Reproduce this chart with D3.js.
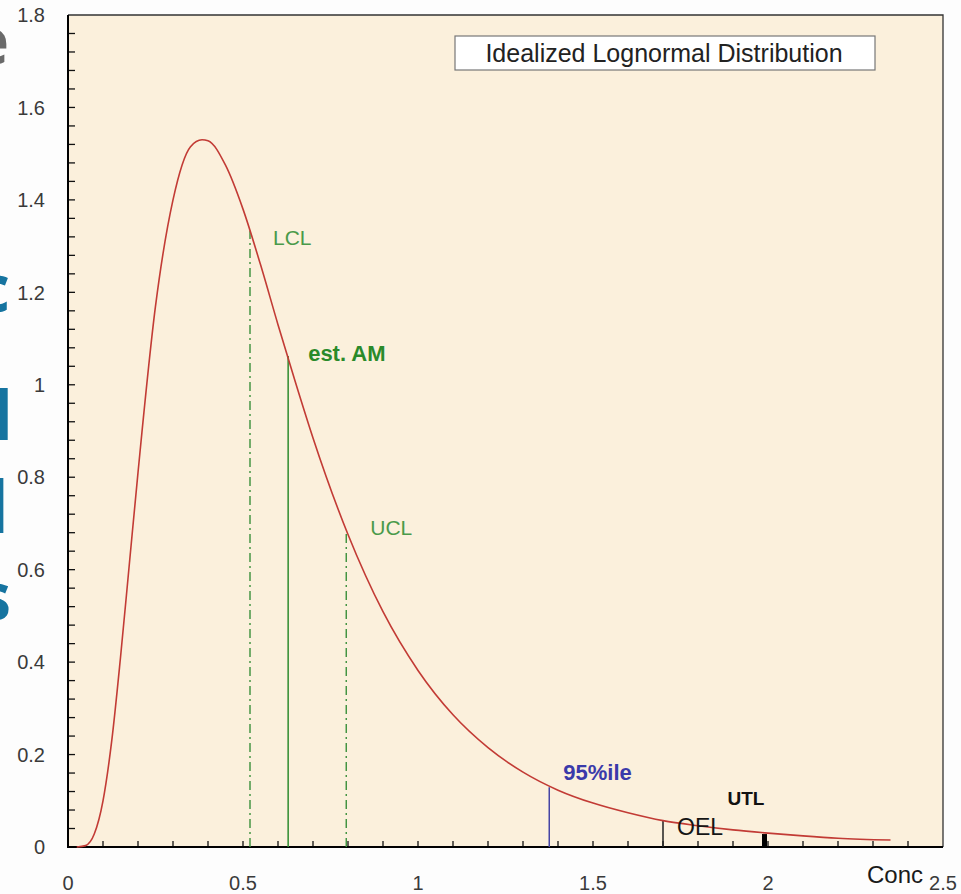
<!DOCTYPE html>
<html>
<head>
<meta charset="utf-8">
<script src="https://cdn.jsdelivr.net/npm/d3@7/dist/d3.min.js"></script>
<style>
  html, body { margin: 0; padding: 0; background: #fdfdfd; }
  svg { display: block; font-family: "Liberation Sans", Arial, sans-serif; }
</style>
</head>
<body>
<svg id="chart" width="961" height="894"></svg>
<script>
// ---- data ----
const curveX = [0.025,0.05,0.075,0.1,0.125,0.15,0.175,0.2,0.25,0.3,0.35,0.383,0.4,0.45,0.5,0.55,0.6,0.65,0.7,0.8,0.9,1.0,1.1,1.2,1.3,1.4,1.5,1.6,1.7,1.8,1.9,2.0,2.1,2.2,2.35];
const curveY = [0,0.003,0.028,0.10,0.23,0.41,0.61,0.81,1.17,1.40,1.515,1.53,1.528,1.475,1.38,1.26,1.13,1.005,0.885,0.676,0.509,0.382,0.286,0.215,0.162,0.123,0.095,0.074,0.057,0.046,0.037,0.030,0.024,0.019,0.015];

const markerNames = ["LCL", "est. AM", "UCL", "95%ile", "OEL", "UTL"];
const markerX     = [0.52, 0.629, 0.795, 1.375, 1.70, 1.99];
const markerTop   = [1.333, 1.062, 0.686, 0.129, 0.056, 0.028];

const xTickLabels = [0, 0.5, 1, 1.5, 2, 2.5];
const yTickLabels = [0, 0.2, 0.4, 0.6, 0.8, 1, 1.2, 1.4, 1.6, 1.8];
const legendTitle = "Idealized Lognormal Distribution";
const xAxisTitle = "Conc";
const sideFragments = ["e", "c", "l", "l", "s"];

// ---- styles (layout only) ----
const markerStyle = [
  {stroke: "#3a8f3a", width: 1.4, dash: "9,4,2,4", color: "#4a9a4a", weight: "normal", size: 21, dx: 23, dy: 14},
  {stroke: "#2e8b2e", width: 1.5, dash: null,      color: "#2a8a2a", weight: "bold",   size: 22, dx: 20, dy: 5},
  {stroke: "#3a8f3a", width: 1.4, dash: "9,4,2,4", color: "#4a9a4a", weight: "normal", size: 21, dx: 24, dy: 5},
  {stroke: "#4545a5", width: 1.5, dash: null,      color: "#3a3aaa", weight: "bold",   size: 22, dx: 14, dy: -7},
  {stroke: "#222",    width: 1.5, dash: null,      color: "#151515", weight: "normal", size: 23, dx: 14, dy: 14},
  {stroke: "#000",    width: 5,   dash: null,      color: "#111",    weight: "bold",   size: 19, dx: -37, dy: -29}
];

const svg = d3.select("#chart");
const L = 68, T = 15, R = 943, B = 847;

const x = d3.scaleLinear().domain([0, 2.5]).range([L, R]);
const y = d3.scaleLinear().domain([0, 1.8]).range([B, T]);

// side fragments of background slide text
const fragG = svg.append("g");
const fragPos = [
  {y: 64,  size: 64, fill: "#6a6a6a", x: 9},
  {y: 312, size: 66, fill: "#1674a0", x: 10},
  {y: 440, size: 68, fill: "#1674a0", x: 13},
  {y: 533, size: 72, fill: "#1674a0", x: 9},
  {y: 620, size: 66, fill: "#1674a0", x: 11}
];
fragG.selectAll("text").data(sideFragments).join("text")
  .attr("x", (d, i) => fragPos[i].x)
  .attr("y", (d, i) => fragPos[i].y)
  .attr("text-anchor", "end")
  .attr("font-family", "'Open Sans', sans-serif")
  .attr("font-weight", "bold")
  .attr("font-size", (d, i) => fragPos[i].size)
  .attr("fill", (d, i) => fragPos[i].fill)
  .text(d => d);

// plot background
svg.append("rect").attr("x", L).attr("y", T).attr("width", R - L).attr("height", B - T)
  .attr("fill", "#fbf0dc");

// border top/right
svg.append("path").attr("d", `M${L},${T}H${R}V${B}`).attr("fill", "none")
  .attr("stroke", "#333").attr("stroke-width", 1.3);

// legend box
const lg = svg.append("g");
lg.append("rect").attr("x", 455).attr("y", 36).attr("width", 420).attr("height", 34)
  .attr("fill", "#fff").attr("stroke", "#777").attr("stroke-width", 1.2);
lg.append("text").attr("x", 664).attr("y", 62).attr("text-anchor", "middle")
  .attr("font-size", 25).attr("fill", "#222").text(legendTitle);

// ticks
const xMinor = d3.range(0, 25).map(i => i / 10).filter(v => v > 0);
svg.append("g").selectAll("line").data(xMinor).join("line")
  .attr("x1", d => x(d)).attr("x2", d => x(d))
  .attr("y1", B).attr("y2", B - 6)
  .attr("stroke", "#111").attr("stroke-width", 1.3);

const yMinor = d3.range(1, 45).map(i => i * 0.04);
svg.append("g").selectAll("line").data(yMinor).join("line")
  .attr("x1", L).attr("x2", L + 7)
  .attr("y1", d => y(d)).attr("y2", d => y(d))
  .attr("stroke", "#111").attr("stroke-width", 1.3);

// axes lines
svg.append("line").attr("x1", L).attr("x2", L).attr("y1", T).attr("y2", B + 1)
  .attr("stroke", "#000").attr("stroke-width", 2);
svg.append("line").attr("x1", L - 1).attr("x2", R).attr("y1", B).attr("y2", B)
  .attr("stroke", "#000").attr("stroke-width", 2);

// tick labels
svg.append("g").selectAll("text").data(yTickLabels).join("text")
  .attr("x", 45).attr("y", d => y(d)).attr("dy", "0.36em")
  .attr("text-anchor", "end").attr("font-size", 20).attr("fill", "#3a3a3a")
  .text(d => d3.format("~g")(d));

svg.append("g").selectAll("text").data(xTickLabels).join("text")
  .attr("x", d => x(d)).attr("y", 890)
  .attr("text-anchor", "middle").attr("font-size", 20).attr("fill", "#3a3a3a")
  .text(d => d3.format("~g")(d));

svg.append("text").attr("x", 923).attr("y", 883).attr("text-anchor", "end")
  .attr("font-size", 24).attr("fill", "#1a1a1a").text(xAxisTitle);

// marker lines
const mk = markerNames.map((n, i) => ({name: n, x: markerX[i], top: markerTop[i], s: markerStyle[i]}));
svg.append("g").selectAll("line").data(mk).join("line")
  .attr("x1", d => x(d.x)).attr("x2", d => x(d.x))
  .attr("y1", B).attr("y2", d => y(d.top))
  .attr("stroke", d => d.s.stroke).attr("stroke-width", d => d.s.width)
  .attr("stroke-dasharray", d => d.s.dash);

// curve
const pts = curveX.map((v, i) => [v, curveY[i]]);
svg.append("path").datum(pts)
  .attr("d", d3.line().x(d => x(d[0])).y(d => y(d[1])).curve(d3.curveMonotoneX))
  .attr("fill", "none").attr("stroke", "#c23b35").attr("stroke-width", 1.6);

// marker labels
svg.append("g").selectAll("text").data(mk).join("text")
  .attr("x", d => x(d.x) + d.s.dx).attr("y", d => y(d.top) + d.s.dy)
  .attr("font-size", d => d.s.size).attr("font-weight", d => d.s.weight)
  .attr("fill", d => d.s.color)
  .text(d => d.name);
</script>
</body>
</html>
